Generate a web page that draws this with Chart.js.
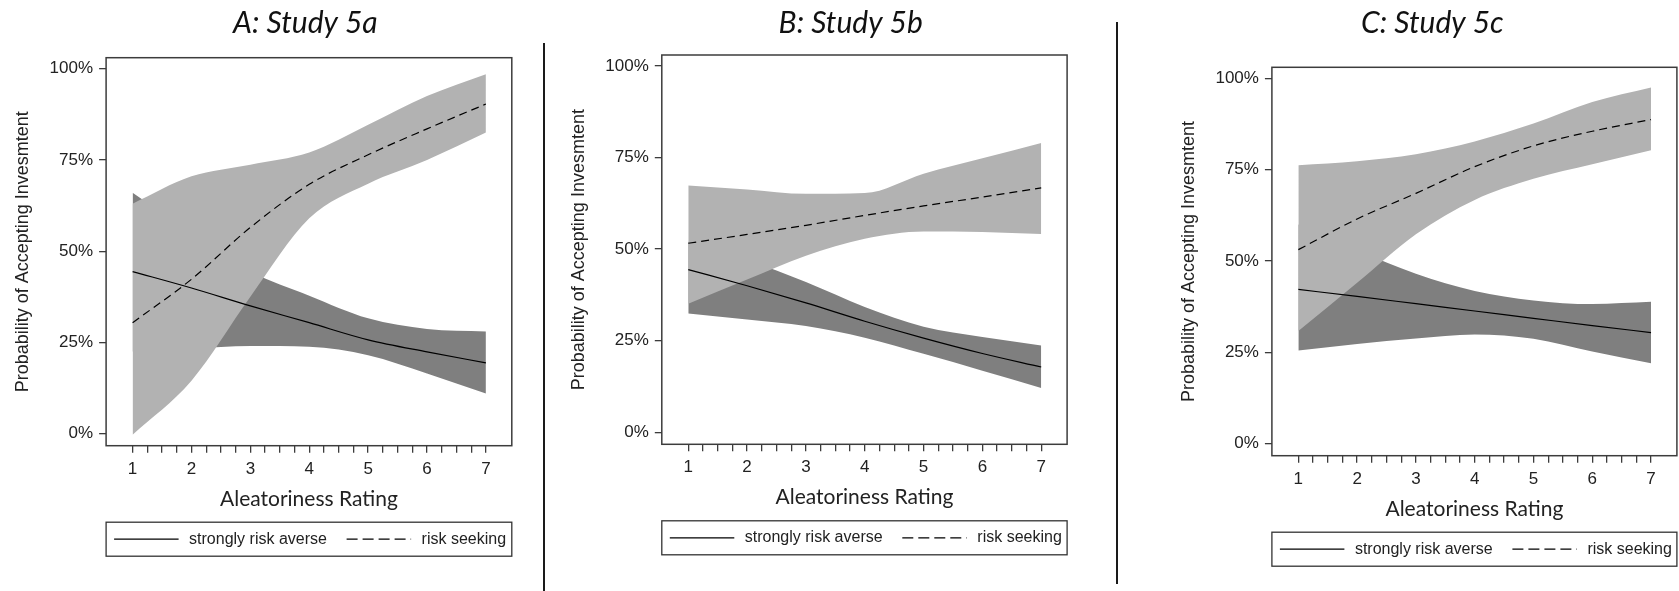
<!DOCTYPE html>
<html>
<head>
<meta charset="utf-8">
<script src="https://cdn.jsdelivr.net/npm/chart.js@4.4.1/dist/chart.umd.min.js"></script>
<style>
  body { margin: 0; background: #fff; }
  #page { position: relative; width: 1679px; height: 591px; overflow: hidden; }
  .panel { position: absolute; top: 0; height: 591px; }
  .sep { position: absolute; width: 2px; background: #1a1a1a; }
</style>
</head>
<body>
<div id="page">
  <div class="panel" style="left:0;width:540px"><canvas id="chartA"></canvas></div>
  <div class="panel" style="left:545px;width:560px"><canvas id="chartB"></canvas></div>
  <div class="panel" style="left:1120px;width:559px"><canvas id="chartC"></canvas></div>
  <div class="sep" style="left:543px;top:43px;height:548px"></div>
  <div class="sep" style="left:1116px;top:22px;height:562px"></div>
</div>
<script>
// x positions (aleatoriness rating) and axis labels
const ratings = [1, 2, 3, 4, 5, 6, 7];
const yTickValues = [0, 25, 50, 75, 100];
const legendLabels = ["strongly risk averse", "risk seeking"];
const panelTitles = ["A: Study 5a", "B: Study 5b", "C: Study 5c"];

// Study 5a (percent)
const averseA    = [44.4, 39.9, 35.0, 30.4, 25.7, 22.4, 19.4];
const averseLoA  = [22.5, 23.3, 24.0, 23.8, 21.5, 16.5, 11.0];
const averseHiA  = [66.0, 55.0, 44.5, 37.8, 31.6, 28.7, 28.0];
const seekingA   = [30.4, 42.3, 56.5, 68.3, 76.4, 83.5, 90.3];
const seekingLoA = [-0.3, 14.5, 37.5, 59.0, 68.5, 75.0, 82.5];
const seekingHiA = [63.0, 70.5, 73.7, 77.0, 84.6, 92.5, 98.5];

// Study 5b
const averseB    = [44.4, 40.0, 35.3, 30.3, 25.7, 21.5, 17.8];
const averseLoB  = [32.4, 30.8, 29.0, 25.8, 21.4, 16.8, 12.1];
const averseHiB  = [52.0, 47.0, 41.0, 34.2, 28.8, 26.0, 23.7];
const seekingB   = [51.6, 54.0, 56.5, 59.2, 61.8, 64.2, 66.7];
const seekingLoB = [35.1, 41.7, 48.2, 52.8, 54.8, 54.7, 54.1];
const seekingHiB = [67.4, 66.3, 65.1, 65.3, 70.6, 74.8, 79.0];

// Study 5c
const averseC    = [42.2, 40.3, 38.3, 36.3, 34.3, 32.3, 30.4];
const averseLoC  = [25.5, 27.3, 28.8, 29.9, 28.7, 25.2, 22.0];
const averseHiC  = [60.0, 53.0, 46.5, 41.8, 39.2, 38.2, 38.8];
const seekingC   = [53.1, 61.5, 68.5, 75.8, 81.5, 85.5, 88.7];
const seekingLoC = [30.8, 44.0, 57.3, 66.7, 72.5, 76.5, 80.3];
const seekingHiC = [76.2, 77.3, 79.2, 82.7, 87.6, 93.5, 97.5];

const LIGHT = "#b2b2b2";
const DARK = "#7f7f7f";
const INK = "#222";
const AXIS = "#3c3c3c";
const CANVAS_H = 591;
const XAXIS_H = 90;

// frame, title and boxed legend drawn on top of each panel
const panelDecor = {
  id: "panelDecor",
  afterDraw(chart, args, opts) {
    const ctx = chart.ctx;
    const a = chart.chartArea;
    ctx.save();
    ctx.strokeStyle = AXIS;
    ctx.lineWidth = 1.5;
    ctx.strokeRect(a.left, a.top, a.right - a.left, a.bottom - a.top);

    ctx.fillStyle = "#111";
    ctx.font = "italic 30px Lato";
    ctx.textAlign = "center";
    ctx.textBaseline = "alphabetic";
    ctx.fillText(opts.title, opts.titleX, 33);

    // legend box
    const top = a.bottom + 76.5, h = 34, cy = top + h / 2;
    ctx.strokeStyle = "#333";
    ctx.lineWidth = 1.3;
    ctx.strokeRect(a.left, top, a.right - a.left, h);
    const sampleX = [8, 240.5];
    chart.data.datasets.filter(d => d.label).forEach((d, i) => {
      const x0 = a.left + sampleX[i];
      ctx.beginPath();
      ctx.setLineDash(d.borderDash ? [11, 5] : []);
      ctx.strokeStyle = "#000";
      ctx.lineWidth = 1.2;
      ctx.moveTo(x0, cy);
      ctx.lineTo(x0 + 64.5, cy);
      ctx.stroke();
      ctx.setLineDash([]);
      ctx.fillStyle = INK;
      ctx.font = '16px "Liberation Sans"';
      ctx.textAlign = "left";
      ctx.textBaseline = "middle";
      ctx.fillText(d.label, x0 + 75, cy);
    });
    ctx.restore();
  }
};

function pts(arr) {
  return ratings.map((r, i) => ({ x: r, y: arr[i] }));
}

function band(arr, color, fill) {
  return {
    data: pts(arr),
    borderWidth: 0,
    borderColor: "rgba(0,0,0,0)",
    backgroundColor: color,
    pointRadius: 0,
    fill: fill,
    cubicInterpolationMode: "monotone"
  };
}

function makeChart(id, lay, title, averse, averseLo, averseHi, seeking, seekingLo, seekingHi) {
  return new Chart(document.getElementById(id), {
    type: "line",
    data: {
      datasets: [
        { label: legendLabels[0], data: pts(averse), borderColor: "#000", borderWidth: 1.2,
          pointRadius: 0, fill: false, cubicInterpolationMode: "monotone" },
        { label: legendLabels[1], data: pts(seeking), borderColor: "#000", borderWidth: 1.2,
          borderDash: [8, 5], pointRadius: 0, fill: false, cubicInterpolationMode: "monotone" },
        band(seekingHi, LIGHT, "+1"),
        band(seekingLo, LIGHT, false),
        band(averseHi, DARK, "+1"),
        band(averseLo, DARK, false)
      ]
    },
    options: {
      responsive: true,
      maintainAspectRatio: false,
      animation: false,
      devicePixelRatio: 1,
      events: [],
      layout: {
        padding: { left: 0, top: lay.top, right: lay.width - lay.right, bottom: CANVAS_H - lay.bottom - XAXIS_H }
      },
      plugins: {
        legend: { display: false },
        tooltip: { enabled: false },
        panelDecor: { title: title, titleX: lay.titleX }
      },
      scales: {
        x: {
          type: "linear",
          min: 0.55,
          max: 7.44,
          afterBuildTicks: sc => {
            const t = [];
            for (let v = 1; v <= 7.001; v += 0.25) t.push({ value: v });
            sc.ticks = t;
          },
          afterFit: sc => { sc.height = XAXIS_H; },
          border: { display: false },
          grid: { drawOnChartArea: false, drawTicks: true, tickLength: 7, color: AXIS, lineWidth: 1.3 },
          ticks: {
            autoSkip: false, maxRotation: 0, padding: 6, color: INK,
            font: { family: "Liberation Sans", size: 17 },
            callback: v => Number.isInteger(v) ? String(v) : ""
          },
          title: {
            display: true, text: "Aleatoriness Rating", color: INK,
            font: { family: "Lato", size: 21 }, padding: { top: 0, bottom: 24 }
          }
        },
        y: {
          min: -3.3,
          max: 103,
          afterBuildTicks: sc => { sc.ticks = yTickValues.map(v => ({ value: v })); },
          afterFit: sc => { sc.width = lay.left; },
          border: { display: false },
          grid: { drawOnChartArea: false, drawTicks: true, tickLength: 7, color: AXIS, lineWidth: 1.3 },
          ticks: {
            padding: 6, color: INK,
            font: { family: "Liberation Sans", size: 17 },
            callback: v => v + "%"
          },
          title: {
            display: true, text: "Probability of Accepting Invesmtent", color: INK,
            font: { family: "Liberation Sans", size: 18 },
            padding: { top: lay.left - 83 - 10.8, bottom: 0 }
          }
        }
      }
    },
    plugins: [panelDecor]
  });
}

makeChart("chartA", { left: 106.1, right: 511.8, top: 57.7, bottom: 445.7, width: 540, titleX: 305.4 },
  panelTitles[0], averseA, averseLoA, averseHiA, seekingA, seekingLoA, seekingHiA);
makeChart("chartB", { left: 116.8, right: 522.1, top: 55, bottom: 444.3, width: 560, titleX: 305.7 },
  panelTitles[1], averseB, averseLoB, averseHiB, seekingB, seekingLoB, seekingHiB);
makeChart("chartC", { left: 151.9, right: 556.9, top: 67.3, bottom: 455.7, width: 559, titleX: 312.4 },
  panelTitles[2], averseC, averseLoC, averseHiC, seekingC, seekingLoC, seekingHiC);
</script>
</body>
</html>
